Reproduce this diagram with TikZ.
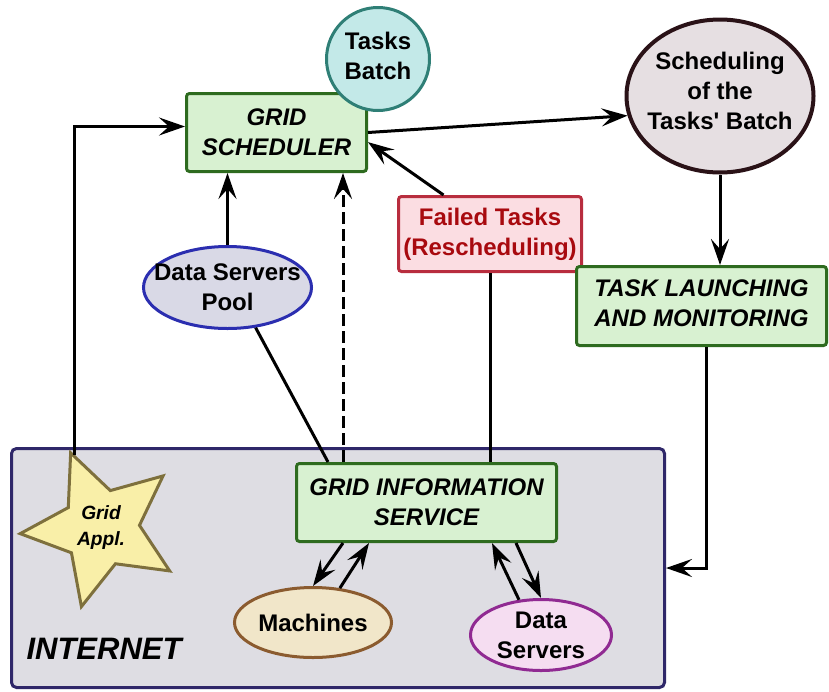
\documentclass[tikz,border=0pt]{standalone}
\usepackage{fontspec}
\setmainfont{Liberation Sans}
\usetikzlibrary{shapes.geometric,arrows.meta}
\definecolor{grnfill}{HTML}{D8F1D1}
\definecolor{grnline}{HTML}{2E6B1F}
\definecolor{tealfill}{HTML}{C3E9E8}
\definecolor{tealline}{HTML}{2F7F76}
\definecolor{schfill}{HTML}{E6DFE2}
\definecolor{schline}{HTML}{2A1217}
\definecolor{redfill}{HTML}{FBDDE2}
\definecolor{redline}{HTML}{B82D3E}
\definecolor{redtext}{HTML}{A80A0F}
\definecolor{poolfill}{HTML}{D9D9E6}
\definecolor{poolline}{HTML}{2B2EB0}
\definecolor{inetfill}{HTML}{DEDDE3}
\definecolor{inetline}{HTML}{2F2769}
\definecolor{starfill}{HTML}{F9EFA8}
\definecolor{starline}{HTML}{7E703D}
\definecolor{machfill}{HTML}{F1E6C9}
\definecolor{machline}{HTML}{8B5B2F}
\definecolor{dsfill}{HTML}{F5DDF1}
\definecolor{dsline}{HTML}{902A92}
\begin{document}
\begin{tikzpicture}[x=0.5pt,y=-0.5pt,
  font=\fontsize{12}{15}\selectfont\bfseries,
  arr/.style={-{Stealth[length=13pt,width=9pt,inset=5pt]}, line width=1.5pt},
  link/.style={line width=1.5pt},
  greenbox/.style={draw=grnline, fill=grnfill, line width=1.5pt, rounded corners=1.5pt,
    align=center, inner sep=0pt, font=\fontsize{12}{15}\selectfont\bfseries\itshape},
  oval/.style={ellipse, line width=1.5pt, align=center, inner xsep=-8pt, inner ysep=-2pt}]
\useasboundingbox (0,0) rectangle (829,691);
% internet area
\node[draw=inetline, fill=inetfill, line width=1.5pt, rounded corners=2.5pt,
  minimum width=326.5pt, minimum height=119.5pt] (inet) at (338,568) {};
\node[font=\fontsize{15.5}{18}\selectfont\bfseries\itshape] (inetlabel) at (104,649) {INTERNET};
% nodes
\node[greenbox, minimum width=90pt, minimum height=39pt] (gs) at (276.5,132.5) {GRID\\SCHEDULER};
\node[circle, draw=tealline, fill=tealfill, line width=1.5pt, align=center, inner sep=0pt,
  minimum size=51.5pt, text depth=3pt] (tb) at (378,59) {Tasks\\Batch};
\node[oval, draw=schline, fill=schfill, line width=2pt, minimum width=93.5pt,
  minimum height=76.5pt, text depth=5pt] (sb) at (720,96)
  {Scheduling\\of the\\Tasks\textquotesingle{} Batch};
\node[draw=redline, fill=redfill, line width=1.5pt, rounded corners=1.5pt, align=center,
  inner sep=0pt, text=redtext, minimum width=91.5pt, minimum height=37.5pt] (fail) at (490,234)
  {Failed Tasks\\(Rescheduling)};
\node[greenbox, minimum width=125pt, minimum height=39.5pt, text depth=3pt] (tl) at (701.5,306)
  {TASK LAUNCHING\\AND MONITORING};
\node[oval, draw=poolline, fill=poolfill, minimum width=84pt, minimum height=41pt] (dsp)
  at (227.5,287.5) {Data Servers\\Pool};
\node[greenbox, minimum width=130pt, minimum height=39pt] (gis) at (426.5,502.5)
  {GRID INFORMATION\\SERVICE};
\node[star, star points=5, star point ratio=2.1, shape border rotate=22, draw=starline,
  fill=starfill, line width=1.5pt, minimum size=81pt, inner sep=0pt, align=center,
  font=\fontsize{9.6}{13}\selectfont\bfseries\itshape] (gapp) at (101,528) {Grid\\Appl.};
\node[oval, draw=machline, fill=machfill, minimum width=78.5pt, minimum height=35pt] (mach)
  at (313,622.5) {Machines};
\node[oval, draw=dsline, fill=dsfill, minimum width=70.5pt, minimum height=35.5pt] (ds)
  at (541,635) {Data\\Servers};
% connectors
\coordinate (dash) at ([xshift=-12.5pt]gs.south east);
\draw[arr] ([xshift=2.5pt,yshift=-2.5pt]gapp.outer point 1) |- ([yshift=3pt]gs.west);
\draw[arr] (gs.east) -- (sb.192);
\draw[arr] (sb.south) -- (sb.south |- tl.north);
\draw[arr] ([xshift=2.5pt]tl.south) |- (inet.east);
\draw[arr] (fail.140) -- (gs.-6);
\draw[link] (fail.south) -- (fail.south |- gis.north);
\draw[arr] (dsp.north) -- (dsp.north |- gs.south);
\draw[arr, dash pattern=on 6pt off 2.5pt] (dash |- gis.north) -- (dash);
\draw[link] (dsp.-55) -- ([xshift=16.5pt]gis.north west);
\draw[arr] ([xshift=24pt]gis.south west) -- (mach.north);
\draw[arr] (mach.52) -- ([xshift=37pt]gis.south west);
\draw[arr] (ds.122) -- ([xshift=-33pt]gis.south east);
\draw[arr] ([xshift=-21pt]gis.south east) -- (ds.north);
\end{tikzpicture}
\end{document}
